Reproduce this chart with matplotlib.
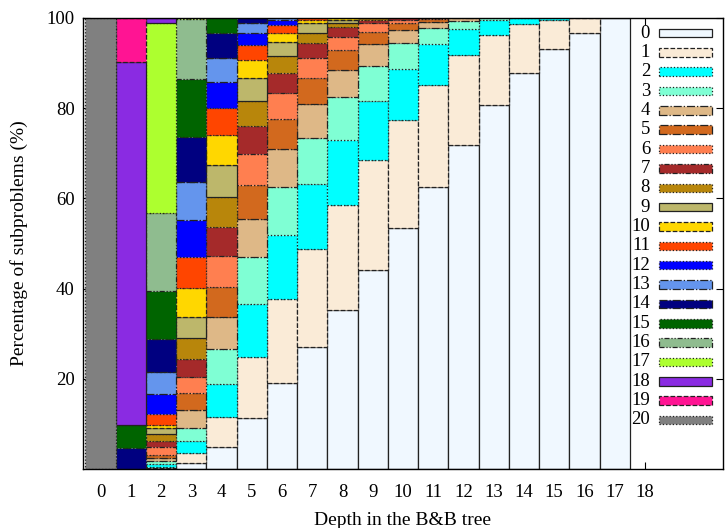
import numpy as np
import matplotlib
matplotlib.use('Agg')
import matplotlib.pyplot as plt
from matplotlib.patches import Rectangle

# --- data: percentage of subproblems per category, by depth 0..17 ---
depths = list(range(18))
xtick_labels = [str(d) for d in range(19)]

cat0 = [0, 0, 0.2, 1.4, 4.8, 11.4, 19.1, 27.1, 35.3, 44.1, 53.4, 62.6, 71.8, 80.7, 87.7, 93.1, 96.6, 100]
cat1 = [0, 0, 0.3, 2.1, 6.8, 13.5, 18.7, 21.6, 23.2, 24.4, 24.0, 22.5, 20.0, 15.5, 11.0, 6.5, 3.4, 0]
cat2 = [0, 0, 0.5, 2.6, 7.2, 11.7, 14.1, 14.4, 14.4, 13.2, 11.2, 9.1, 5.7, 3.3, 1.3, 0.4, 0, 0]
cat3 = [0, 0, 0.7, 2.9, 7.7, 10.3, 10.7, 10.2, 9.5, 7.7, 5.9, 3.5, 1.9, 0.5, 0, 0, 0, 0]
cat4 = [0, 0, 0.8, 4.1, 7.3, 8.5, 8.3, 7.6, 6.1, 4.8, 2.9, 1.4, 0.6, 0, 0, 0, 0, 0]
cat5 = [0, 0, 0.5, 3.7, 6.6, 7.6, 6.6, 5.7, 4.3, 2.8, 1.5, 0.6, 0, 0, 0, 0, 0, 0]
cat6 = [0, 0, 1.9, 3.5, 6.8, 6.8, 5.8, 4.5, 3.0, 1.9, 0.6, 0.3, 0, 0, 0, 0, 0, 0]
cat7 = [0, 0, 1.3, 4.1, 6.5, 6.3, 4.6, 3.3, 2.2, 0.6, 0.5, 0, 0, 0, 0, 0, 0, 0]
cat8 = [0, 0, 1.5, 4.6, 6.5, 5.6, 3.7, 2.3, 1.0, 0.4, 0, 0, 0, 0, 0, 0, 0, 0]
cat9 = [0, 0, 1.5, 4.8, 7.2, 4.9, 3.0, 2.2, 0.6, 0.1, 0, 0, 0, 0, 0, 0, 0, 0]
cat10 = [0, 0, 0.6, 6.3, 6.7, 4.1, 2.1, 0.7, 0.4, 0, 0, 0, 0, 0, 0, 0, 0, 0]
cat11 = [0, 0, 2.3, 7.0, 6.0, 3.3, 1.7, 0.4, 0, 0, 0, 0, 0, 0, 0, 0, 0, 0]
cat12 = [0, 0, 4.5, 8.1, 5.6, 2.7, 1.2, 0, 0, 0, 0, 0, 0, 0, 0, 0, 0, 0]
cat13 = [0, 0, 4.8, 8.5, 5.5, 2.3, 0.4, 0, 0, 0, 0, 0, 0, 0, 0, 0, 0, 0]
cat14 = [0, 4.7, 7.4, 10.0, 5.4, 1.0, 0, 0, 0, 0, 0, 0, 0, 0, 0, 0, 0, 0]
cat15 = [0, 5.1, 10.7, 12.7, 3.4, 0, 0, 0, 0, 0, 0, 0, 0, 0, 0, 0, 0, 0]
cat16 = [0, 0, 17.2, 13.4, 0, 0, 0, 0, 0, 0, 0, 0, 0, 0, 0, 0, 0, 0]
cat17 = [0, 0, 42.1, 0.2, 0, 0, 0, 0, 0, 0, 0, 0, 0, 0, 0, 0, 0, 0]
cat18 = [0, 80.4, 1.2, 0, 0, 0, 0, 0, 0, 0, 0, 0, 0, 0, 0, 0, 0, 0]
cat19 = [0, 9.8, 0, 0, 0, 0, 0, 0, 0, 0, 0, 0, 0, 0, 0, 0, 0, 0]
cat20 = [100, 0, 0, 0, 0, 0, 0, 0, 0, 0, 0, 0, 0, 0, 0, 0, 0, 0]

categories = [cat0, cat1, cat2, cat3, cat4, cat5, cat6, cat7, cat8, cat9, cat10,
              cat11, cat12, cat13, cat14, cat15, cat16, cat17, cat18, cat19, cat20]
cat_labels = [str(i) for i in range(21)]

colors = ['#F0F8FF', '#FAEBD7', '#00FFFF', '#7FFFD4', '#DEB887', '#D2691E', '#FF7F50',
          '#A52A2A', '#B8860B', '#BDB76B', '#FFD700', '#FF4500', '#0000FF', '#6495ED',
          '#000080', '#006400', '#8FBC8F', '#ADFF2F', '#8A2BE2', '#FF1493', '#808080']
dash_cycle = ['-', '--', ':', ':', '-.', '-.', ':', (0, (4, 1.5, 1, 1.5, 1, 1.5)), ':']

plt.rcParams['font.family'] = ['Liberation Serif', 'DejaVu Serif']

fig = plt.figure(figsize=(7.26, 5.28), dpi=100)
ax = fig.add_axes([83 / 726, 1 - 469 / 528, 640 / 726, 451 / 528])

# --- stacked bars ---
bottom = np.zeros(len(depths))
for i, vals in enumerate(categories):
    vals = np.array(vals, dtype=float)
    mask = vals > 0
    ax.bar(np.array(depths)[mask], vals[mask], bottom=bottom[mask], width=1.0,
           color=colors[i], edgecolor='#222222', linewidth=0.9,
           linestyle=dash_cycle[i % 9], zorder=2)
    bottom += vals

ax.set_xlim(-0.58, 20.58)
ax.set_ylim(0, 100)
ax.set_xticks(range(19))
ax.set_xticklabels(xtick_labels)
ax.set_yticks([20, 40, 60, 80, 100])
ax.tick_params(direction='in', top=True, right=True, length=5, width=0.8, labelsize=13.5)
ax.tick_params(axis='x', pad=11)
ax.tick_params(axis='y', pad=6)
for s in ax.spines.values():
    s.set_linewidth(1.0)

ax.set_xlabel('Depth in the B&B tree', fontsize=14, labelpad=8)
ax.set_ylabel('Percentage of subproblems (%)', fontsize=14, labelpad=13)

# --- legend (gnuplot style: right-justified text, then sample box) ---
for i, lab in enumerate(cat_labels):
    yc = (469 - (33 + 19.35 * i)) / 451
    ax.text(0.886, yc, lab, transform=ax.transAxes, ha='right', va='center', fontsize=13.5)
    ax.add_patch(Rectangle((0.9, yc - 0.0095), 0.083, 0.019, transform=ax.transAxes,
                           facecolor=colors[i], edgecolor='#222222', linewidth=0.9,
                           linestyle=dash_cycle[i % 9], zorder=3, clip_on=False))

fig.savefig('out.png', dpi=100)
